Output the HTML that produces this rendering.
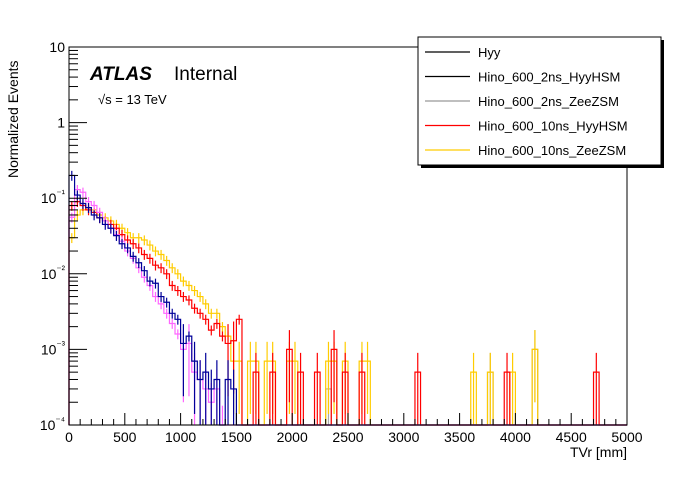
<!DOCTYPE html>
<html><head><meta charset="utf-8"><style>
body{margin:0;background:#fff;}
svg text{font-family:"Liberation Sans",Arial,sans-serif;}
</style></head><body>
<svg id="c" width="696" height="472" xmlns="http://www.w3.org/2000/svg">
<rect width="696" height="472" fill="#fff"/>
<g id="plot"></g>
<g id="axes"></g>
<text x="12" y="172" transform="rotate(-90 18 172)" font-size="14">Normalized Events</text>
<text x="627" y="457" font-size="14" text-anchor="end">TVr [mm]</text>
<text x="90" y="80" font-size="19" font-weight="bold" font-style="italic">ATLAS</text>
<text x="174" y="80" font-size="19">Internal</text>
<text x="98" y="104" font-size="13">√s = 13 TeV</text>
<g>
<rect x="421" y="40" width="243" height="128" fill="#000"/>
<rect x="418" y="37" width="243" height="128" fill="#fff" stroke="#000"/>
<g id="leg"></g>
</g>
</svg>
<script>
const xTicks=[0,500,1000,1500,2000,2500,3000,3500,4000,4500,5000];
const yTickLabels=["10","1","10⁻¹","10⁻²","10⁻³","10⁻⁴"];
const seriesNames=["Hyy","Hino_600_2ns_HyyHSM","Hino_600_2ns_ZeeZSM","Hino_600_10ns_HyyHSM","Hino_600_10ns_ZeeZSM"];
const legendColors=["#000","#000","#999","#f00","#fc0"];
const binWidth=50;
const blueVals=[0.2,0.11,0.085,0.075,0.06,0.055,0.045,0.04,0.032,0.025,0.022,0.017,0.014,0.011,0.008,0.0075,0.005,0.0042,0.003,0.0025,0.0012,0.0015,0.0007,0.0004,0.0005,0.0003,0.0004,0,0.0004,0.0003];
const magentaVals=[0.056,0.13,0.12,0.09,0.08,0.065,0.05,0.04,0.033,0.027,0.02,0.016,0.012,0.009,0.007,0.005,0.004,0.003,0.0022,0.0016,0.001,0.0012,0.0005,0.0004,0.0003,0.0002,0.0003,0.0001];
const redVals=[0.08,0.09,0.08,0.07,0.065,0.055,0.05,0.045,0.04,0.033,0.028,0.025,0.022,0.018,0.016,0.013,0.012,0.01,0.007,0.006,0.005,0.0045,0.0035,0.003,0.0025,0.0018,0.0022,0.0015,0.0012,0.0013,0.0025];
const goldVals=[0.03,0.06,0.07,0.075,0.07,0.06,0.055,0.05,0.045,0.04,0.035,0.03,0.03,0.028,0.024,0.02,0.018,0.015,0.012,0.01,0.008,0.007,0.006,0.005,0.004,0.003,0.003,0.002,0.0015,0.0007,0.0007];
const redTailX=[1650,1800,1950,2050,2200,2350,2450,2600,3100,3900,4700];
const redTailY=[0.0005,0.0005,0.001,0.0005,0.0005,0.001,0.0005,0.0005,0.0005,0.0005,0.0005];
const goldTailX=[1600,1650,1750,1800,1950,2000,2300,2350,2450,2600,2650,3600,3750,3950,4150];
const goldTailY=[0.0007,0.0007,0.0007,0.0007,0.0007,0.0007,0.0007,0.0007,0.0007,0.0007,0.0007,0.0005,0.0005,0.0005,0.001];
const grayTailX=[2300,3750,4150];
const grayTailY=[0.0003,0.0005,0.001];
const X0=69,X1=627,Y0=47,Y1=425;
const sx=v=>X0+(v/5000)*(X1-X0);
const sy=v=>Y1-(Math.log10(v)+4)/5*(Y1-Y0);
const NS="http://www.w3.org/2000/svg";
function mk(t,a,p){const e=document.createElementNS(NS,t);for(const k in a)e.setAttribute(k,a[k]);p.appendChild(e);return e;}
const plot=document.getElementById('plot'),axes=document.getElementById('axes');
function fullArr(main,tx,ty){const a=new Array(100).fill(0);main.forEach((v,i)=>a[i]=v);(tx||[]).forEach((x,i)=>a[Math.round(x/binWidth)]=ty[i]);return a;}
function drawHist(arr,color,name){
  const yv=v=>v>0?Math.min(Y1,sy(v)):Y1;
  let d="M"+sx(0)+","+Y1;
  arr.forEach((v,i)=>{const y=yv(v);d+=" L"+sx(i*binWidth)+","+y+" L"+sx((i+1)*binWidth)+","+y;});
  const p=mk('path',{d:d,fill:'none',stroke:color,'stroke-width':1.2},plot);
  
  
  arr.forEach((v,i)=>{if(v>0){const cx=sx((i+0.5)*binWidth);const rel=v<0.0015?0.8:0.15;
    const l=mk('line',{x1:cx,x2:cx,y1:sy(v*(1+rel)),y2:Math.min(Y1,sy(Math.max(v*(1-rel),1e-4))),stroke:color,'stroke-width':1.2},plot);
    
    }});
}
drawHist(fullArr([],grayTailX,grayTailY),"#aaa","series-gray");
drawHist(fullArr(goldVals,goldTailX,goldTailY),"#fc0","series-gold");
drawHist(fullArr(redVals,redTailX,redTailY),"#f00","series-red");
drawHist(fullArr(magentaVals),"#f6f","series-magenta");
drawHist(fullArr(blueVals),"#009","series-blue");
const fr=mk('rect',{x:X0,y:Y0,width:X1-X0,height:Y1-Y0,fill:'none',stroke:'#000'},axes);


for(let v=0;v<=5000;v+=100){const x=sx(v),L=v%500===0?12:6;mk('line',{x1:x,x2:x,y1:Y1,y2:Y1-L,stroke:'#000'},axes);}
xTicks.forEach(v=>{const t=mk('text',{x:sx(v),y:Y1+17,'font-size':14,'text-anchor':'middle'},axes);t.textContent=v;
  
  });
yTickLabels.forEach((s,i)=>{const e=1-i;const y=sy(Math.pow(10,e));mk('line',{x1:X0,x2:X0+18,y1:y,y2:y,stroke:'#000'},axes);
  const t=mk('text',{x:X0-4,y:y+5,'font-size':14,'text-anchor':'end'},axes);
  if(s.length>2){t.textContent="10";const sp=mk('tspan',{dy:-6,'font-size':10},t);sp.textContent=s.slice(2);}else t.textContent=s;
  
  
  if(e>-4)for(let m=2;m<10;m++){const yy=sy(m*Math.pow(10,e-1));mk('line',{x1:X0,x2:X0+9,y1:yy,y2:yy,stroke:'#000'},axes);}});
const leg=document.getElementById('leg');
seriesNames.forEach((n,i)=>{const y=52+i*24.5;
  const l=mk('line',{x1:425,x2:470,y1:y,y2:y,stroke:legendColors[i],'stroke-width':1.2},leg);
  
  
  const t=mk('text',{x:478,y:y+5,'font-size':13},leg);t.textContent=n;
  
  });
</script>
</body></html>
